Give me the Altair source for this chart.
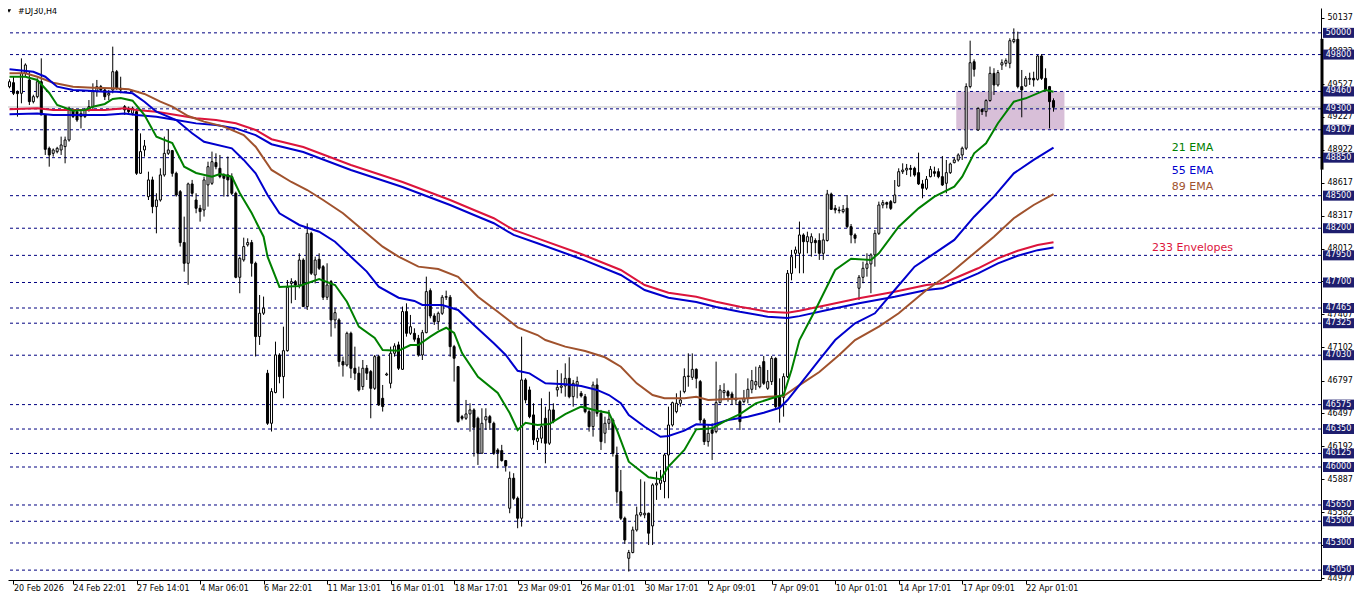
import altair as alt
import pandas as pd

# ---------------- data ----------------
opens = [49504,49541,49458,49443,49627,49566,49366,49412,49550,49243,48936,48890,48905,48921,48952,49013,49290,49274,49228,49228,
         49290,49320,49458,49504,49474,49427,49474,49642,49489,49320,49305,49259,49274,48706,48921,48491,48645,48399,48460,48691,
         48890,48915,48706,48537,48068,47877,48608,48460,48384,48368,48599,48614,48805,48752,48691,48691,48675,48522,47748,47908,
         48047,48068,47877,47202,47417,46864,46403,46686,47032,46833,47072,47692,47708,47677,47907,47478,48153,47769,47914,47846,
         47564,47708,47355,47355,46971,46940,47232,46910,46864,46741,46910,46879,46725,47017,46633,46848,46771,47048,47125,46900,
         47432,47232,47232,47186,47032,47238,47625,47392,47339,47416,47564,47564,47109,46925,46464,46449,46489,46526,46449,46127,
         46434,46464,46403,46157,46151,46059,45620,45897,45712,45528,46802,46710,46480,46234,46265,46449,46219,46526,46710,46734,
         46747,46817,46648,46756,46679,46648,46510,46372,46756,46495,46311,46403,46433,46111,45773,45528,45159,45212,45420,45559,
         45559,45574,45457,45835,45850,45866,46111,46387,46510,46587,46694,46833,46826,46900,46787,46433,46234,46341,46326,46593,
         46685,46694,46673,46618,46602,46602,46633,46716,46756,46740,46971,46725,46787,47001,46648,46642,46833,47784,47969,47969,
         48138,48076,48067,48087,48087,47969,48087,48515,48384,48368,48353,48384,48215,48138,47647,47748,47831,47871,47954,48153,
         48414,48436,48445,48436,48589,48721,48736,48752,48752,48712,48608,48568,48675,48721,48721,48675,48614,48712,48804,48829,
         48875,48937,49505,49734,49105,49295,49274,49376,49627,49520,49704,49719,49719,49919,49940,49505,49510,49572,49581,49572,
         49787,49581,49505,49376]
highs = [49572,49596,49470,49765,49719,49642,49430,49581,49765,49250,48952,48935,48950,49044,49044,49320,49305,49290,49290,49305,
         49381,49535,49566,49520,49489,49474,49873,49658,49596,49335,49320,49320,49290,49074,49013,48721,48675,48522,48752,49044,
         49111,48921,48721,48552,48307,48620,48645,48522,48415,48675,48813,48906,48890,48875,48706,48860,48706,48537,47938,48113,
         48107,48092,47892,47585,47570,46895,46726,47155,47048,47293,47723,47739,47723,47969,47923,48245,48168,47938,47969,47861,
         47877,47723,47462,47370,47017,47247,47247,47109,46925,46986,46940,46894,47032,47032,46756,46870,47109,47140,47155,47478,
         47508,47401,47278,47217,47263,47754,47646,47416,47432,47585,47625,47585,47125,46931,46480,46618,46587,46541,46464,46541,
         46541,46480,46418,46173,46204,46065,45958,45943,45728,47201,46818,46741,46587,46341,46633,46556,46694,46587,46894,46863,
         46955,47011,46802,46833,46700,46673,46526,46787,46817,46526,46464,46526,46449,46188,45973,45543,45236,45451,45635,45887,
         45866,45580,45850,45958,45973,46126,46556,46602,46679,46704,46909,47047,47047,46909,46802,46449,46387,46403,46971,46756,
         46771,46710,46694,46863,46618,46710,46817,46894,46925,46940,47023,46894,47023,47011,46817,46863,47815,48000,48031,48261,
         48153,48168,48153,48107,48153,48153,48553,48528,48414,48399,48414,48506,48239,48153,47769,47892,47969,47969,48184,48445,
         48460,48445,48460,48644,48752,48798,48792,48783,48767,48896,48645,48681,48773,48767,48752,48865,48829,48804,48853,48890,
         48952,49535,49928,49756,49314,49304,49388,49689,49674,49658,49756,49765,49950,50041,50011,49658,49602,49633,49642,49796,
         49805,49673,49511,49397]
lows = [49489,49427,49228,49351,49596,49335,49350,49397,49243,48875,48767,48860,48890,48875,48798,48998,49215,49180,49120,49215,
        49274,49290,49412,49460,49381,49381,49443,49474,49443,49244,49260,49240,48691,48700,48860,48460,48338,48153,48445,48675,
        48875,48675,48491,48031,47800,47678,48491,48338,48261,48307,48399,48599,48743,48660,48491,48491,48506,47739,47601,47892,
        48031,47754,47018,47125,47401,46388,46327,46679,46771,46633,47063,47508,47539,47646,47478,47447,47769,47692,47815,47539,
        47539,47201,47278,46925,46833,46925,46818,46802,46695,46710,46802,46449,46710,46563,46511,46840,46725,47017,46894,46894,
        47201,47217,47155,47017,46986,47232,47370,47309,47263,47401,47539,47017,46787,46409,46430,46434,46326,46096,46019,46127,
        46342,46342,46111,45989,46050,45958,45574,45697,45436,45451,46587,46449,46204,46157,46219,46034,46203,46403,46648,46679,
        46648,46633,46556,46633,46640,46495,46326,46280,46464,46157,46219,46341,46096,45666,45512,45291,45037,45205,45405,45543,
        45528,45282,45282,45697,45789,45712,45712,46372,46495,46556,46679,46740,46802,46725,46403,46203,46188,46065,46311,46587,
        46618,46602,46572,46572,46341,46587,46587,46679,46710,46725,46756,46710,46756,46541,46409,46464,46820,47720,47831,47785,
        47785,47969,47938,47969,47908,47908,48077,48368,48337,48337,48337,48200,48061,48061,47539,47693,47754,47601,47846,48138,
        48383,48383,48368,48429,48583,48700,48690,48675,48675,48598,48476,48552,48669,48675,48660,48589,48522,48700,48798,48814,
        48829,48921,49489,49597,49099,49243,49228,49366,49428,49505,49658,49689,49674,49904,49489,49222,49505,49520,49505,49560,
        49566,49458,49120,49274]
closes = [49550,49443,49440,49627,49704,49366,49412,49550,49243,48927,48875,48921,48936,48967,49013,49305,49228,49197,49259,49290,
          49320,49458,49504,49474,49412,49443,49642,49489,49474,49290,49274,49305,48706,48906,48958,48645,48399,48460,48691,48890,
          48921,48706,48506,48068,47877,48608,48522,48384,48353,48645,48767,48813,48767,48675,48660,48645,48522,47748,47923,48031,
          48068,47877,47202,47417,47463,46403,46695,47032,46833,47072,47656,47708,47677,47907,47478,48153,47785,47907,47831,47564,
          47677,47355,47422,46971,46940,47232,46910,46864,46710,46910,46864,46725,47017,46572,46557,46857,47048,47115,46910,47432,
          47232,47293,47177,47032,47238,47616,47392,47339,47416,47564,47570,47109,47002,46418,46449,46489,46526,46366,46127,46403,
          46464,46409,46127,46133,46059,46010,45897,45712,45528,46802,46618,46464,46250,46265,46372,46219,46526,46418,46734,46747,
          46817,46648,46771,46787,46655,46510,46372,46756,46495,46234,46403,46440,46126,45773,45528,45328,45212,45420,45559,45580,
          45574,45390,45835,45850,45881,46111,46387,46593,46587,46618,46833,46839,46900,46817,46433,46234,46311,46311,46593,46710,
          46704,46655,46633,46633,46418,46633,46716,46796,46787,46919,46771,46787,47001,46556,46556,46833,47784,47938,48000,48138,
          48076,48122,48122,48067,47969,48092,48515,48374,48368,48362,48374,48215,48138,48107,47748,47831,47871,47954,48153,48414,
          48436,48421,48383,48506,48721,48736,48752,48742,48690,48608,48568,48651,48743,48706,48675,48598,48712,48792,48829,48875,
          48937,49505,49725,49664,49304,49274,49376,49627,49520,49634,49725,49744,49928,49940,49505,49474,49581,49581,49566,49787,
          49581,49474,49366,49314]

x_label_idx = [1, 16, 32, 48, 64, 80, 96, 112, 128, 144, 160, 176, 192, 208, 224, 240, 256]
x_labels = ["20 Feb 2026", "24 Feb 22:01", "27 Feb 14:01", "4 Mar 06:01", "6 Mar 22:01", "11 Mar 13:01",
            "16 Mar 01:01", "18 Mar 17:01", "23 Mar 09:01", "26 Mar 01:01", "30 Mar 17:01", "2 Apr 09:01",
            "7 Apr 09:01", "10 Apr 01:01", "14 Apr 17:01", "17 Apr 09:01", "22 Apr 01:01"]

scale_ticks = [50137, 49832, 49527, 49227, 48922, 48617, 48317, 48012, 47712, 47407, 47102, 46797,
               46497, 46192, 45887, 45582, 45277, 44977]
level_values = [50000, 49800, 49460, 49300, 49107, 48850, 48500, 48200, 47950, 47700, 47465, 47325,
                47030, 46575, 46350, 46125, 46000, 45650, 45500, 45300, 45050]

ema21_idx = [0,4,7,10,12,16,19,21,24,26,28,31,34,37,41,44,47,51,53,56,58,61,64,65,68,73,78,82,85,88,92,94,98,101,103,106,108,110,
             112,114,118,123,126,128,130,133,136,140,144,148,151,153,156,161,164,166,170,173,177,180,184,188,192,195,197,199,203,
             208,212,217,219,224,229,233,238,240,243,246,249,253,256,261,263]
ema21_val = [49596,49596,49566,49446,49335,49283,49289,49320,49345,49391,49400,49375,49243,49043,48985,48767,48709,48675,48700,
             48675,48525,48340,48122,47938,47659,47668,47732,47677,47523,47293,47189,47078,47072,47124,47124,47201,47247,47283,
             47235,47050,46832,46682,46497,46341,46408,46387,46396,46488,46556,46519,46498,46341,46049,45905,45887,46003,46157,
             46347,46357,46418,46488,46587,46633,46664,46894,47170,47447,47815,47919,47907,47969,48214,48383,48491,48583,48675,
             48890,48983,49167,49366,49397,49474,49458]
ema55_idx = [0,6,9,12,16,20,24,27,31,34,37,42,46,49,56,59,62,65,68,73,78,82,86,90,93,98,102,104,109,113,117,122,125,128,131,
             135,140,144,148,151,154,156,160,164,166,170,173,177,181,186,190,194,196,199,204,208,213,218,223,228,233,238,243,248,
             253,258,263]
ema55_val = [49664,49642,49596,49504,49474,49467,49458,49458,49443,49366,49274,49197,49075,48997,48936,48829,48706,48506,48338,
             48230,48168,48076,47938,47800,47661,47560,47530,47493,47493,47447,47308,47140,47032,46887,46863,46771,46762,46746,
             46710,46663,46587,46479,46371,46279,46286,46335,46394,46387,46433,46464,46500,46546,46617,46755,46986,47170,47324,
             47416,47631,47846,47969,48092,48306,48491,48706,48829,48942]
ema89_idx = [0,4,7,11,16,21,26,30,34,38,41,45,49,54,59,62,66,71,75,79,84,89,94,98,103,108,113,118,123,128,133,135,140,145,150,
             154,158,162,165,170,173,176,181,186,191,195,199,204,209,213,219,224,231,237,243,248,253,258,263]
ema89_val = [49627,49627,49596,49541,49504,49495,49489,49480,49437,49366,49320,49234,49182,49136,49059,48951,48737,48626,48552,
             48460,48338,48184,48030,47938,47846,47824,47753,47569,47431,47287,47216,47170,47109,47069,47011,46924,46771,46663,
             46633,46633,46648,46617,46627,46633,46648,46654,46755,46875,47032,47170,47293,47416,47631,47785,47969,48122,48292,
             48414,48515]
env_idx = [0,7,11,24,29,32,37,42,47,52,57,62,66,74,86,99,111,117,122,127,133,144,154,160,166,173,178,184,191,196,199,206,214,
           223,231,235,239,244,249,254,259,263]
env_upper = [49296,49305,49289,49289,49305,49289,49274,49243,49213,49197,49167,49105,49020,48948,48783,48626,48460,48368,48292,
             48184,48107,47963,47815,47677,47606,47569,47523,47477,47431,47422,47440,47493,47554,47615,47677,47693,47753,47831,
             47923,47993,48045,48070]
env_lower = [49250,49258,49243,49243,49258,49243,49228,49197,49166,49150,49120,49058,48974,48902,48737,48580,48414,48322,48246,
             48138,48061,47917,47769,47631,47560,47520,47475,47430,47385,47372,47390,47446,47508,47568,47630,47646,47706,47784,
             47876,47946,47998,48022]

note_text = ["21 EMA", "55 EMA", "89 EMA", "233 Envelopes"]
note_idx = [298, 298, 298, 298]
note_price = [48939, 48727, 48580, 48018]
note_color = ["#008000", "#0000CD", "#A0522D", "#DC143C"]

zone_start, zone_end = [238.5], [265.75]
zone_top, zone_bottom = [49460], [49107]
bid_price = [49317]

# ---------------- chart ----------------
W, H = 1313, 572
FONT = "DejaVu Sans"
xs = alt.Scale(domain=[0.875, 329.125], nice=False, zero=False)
ys = alt.Scale(domain=[44959, 50229], nice=False, zero=False)

lbl_expr = "[" + ",".join("'" + s + "'" for s in x_labels) + "][round(datum.value/16)]"
xaxis = alt.Axis(values=x_label_idx, labelExpr=lbl_expr, orient="bottom", tickSize=4, labelAlign="left",
                 labelPadding=0, labelOffset=0, title=None, grid=False, labelOverlap=False, labelFlush=False,
                 labelBound=False, labelFont=FONT, labelFontSize=8, labelColor="black", tickColor="black",
                 domainColor="black")
yaxis = alt.Axis(values=scale_ticks, orient="right", format="d", tickSize=3, labelPadding=3, title=None, grid=False,
                 labelOverlap=False, labelFlush=False, labelBound=False, labelFont=FONT, labelFontSize=8,
                 labelColor="black", tickColor="black", domainColor="black")


def X(f):
    return alt.X(f, type="quantitative", scale=xs, axis=xaxis)


def Y(f):
    return alt.Y(f, type="quantitative", scale=ys, axis=yaxis)


candles = pd.DataFrame({"i": list(range(len(opens))), "o": opens, "h": highs, "l": lows, "c": closes})
candles["dir"] = ["up" if c >= o else "down" for o, c in zip(opens, closes)]

zone = pd.DataFrame({"a": zone_start, "b": zone_end, "t": zone_top, "u": zone_bottom})
zone_layer = alt.Chart(zone).mark_rect(color="#D8BFD8").encode(
    x=X("a"), x2="b", y=Y("t"), y2="u")

levels = pd.DataFrame({"level": level_values})
level_lines = alt.Chart(levels).mark_rule(color="#000080", strokeWidth=1, strokeDash=[3, 3]).encode(y=Y("level"))

bid = pd.DataFrame({"p": bid_price})
bid_line = alt.Chart(bid).mark_rule(color="#C0C0C0", strokeWidth=1).encode(y=Y("p"))

wicks = alt.Chart(candles).mark_rule(color="black", strokeWidth=1).encode(x=X("i"), y=Y("l"), y2="h")
bodies = alt.Chart(candles).mark_bar(width=2, stroke="black", strokeWidth=1).encode(
    x=X("i"), y=Y("o"), y2="c",
    fill=alt.Fill("dir:N", scale=alt.Scale(domain=["up", "down"], range=["white", "black"]), legend=None))


def line_layer(idx, vals, color):
    df = pd.DataFrame({"i": idx, "v": vals})
    return alt.Chart(df).mark_line(color=color, strokeWidth=2, interpolate="linear").encode(x=X("i"), y=Y("v"))


env_up_l = line_layer(env_idx, env_upper, "#DC143C")
env_lo_l = line_layer(env_idx, env_lower, "#0000CD")
ema89_l = line_layer(ema89_idx, ema89_val, "#A0522D")
ema55_l = line_layer(ema55_idx, ema55_val, "#0000CD")
ema21_l = line_layer(ema21_idx, ema21_val, "#008000")

notes = pd.DataFrame({"t": note_text, "i": note_idx, "p": note_price, "col": note_color})
notes_layer = alt.Chart(notes).mark_text(font=FONT, fontSize=11, align="center", baseline="middle").encode(
    x=X("i"), y=Y("p"), text="t:N", color=alt.Color("col:N", scale=None))

# price label boxes on the right scale
bid_tag = alt.Chart(pd.DataFrame({"p": [49335]})).mark_rule(color="black", strokeWidth=2).encode(
    y=Y("p"), x=alt.value(W), x2=alt.value(W + 33))
axis_mark = alt.Chart(pd.DataFrame({"p1": [49945], "p2": [48740]})).mark_rule(color="black", strokeWidth=3).encode(
    y=Y("p1"), y2="p2", x=alt.value(W + 1))
boxes = alt.Chart(levels).mark_tick(orient="horizontal", thickness=10, size=31, color="#1E1E6E", opacity=1).encode(
    y=Y("level"), x=alt.value(W + 17.5))
box_text = alt.Chart(levels).mark_text(font=FONT, fontSize=8, color="white", align="center", baseline="middle").encode(
    y=Y("level"), x=alt.value(W + 17.5), text=alt.Text("level:Q", format="d"))

title_df = pd.DataFrame({"t": ["#DJ30,H4"]})
title_txt = alt.Chart(title_df).mark_text(font=FONT, fontSize=8, align="left", baseline="middle", color="black").encode(
    text="t:N", x=alt.value(10), y=alt.value(4))
title_tri = alt.Chart(title_df).mark_point(shape="triangle-down", filled=True, size=18, color="black", opacity=1).encode(
    x=alt.value(1), y=alt.value(3))

chart = alt.layer(
    zone_layer, bid_line, level_lines, wicks, bodies,
    env_up_l, env_lo_l, ema89_l, ema55_l, ema21_l, notes_layer,
    bid_tag, axis_mark, boxes, box_text, title_txt, title_tri
).properties(
    width=W, height=H,
    autosize=alt.AutoSizeParams(type="none"),
    padding={"left": 0, "top": 0, "right": 33, "bottom": 13},
    background="white"
).configure_view(strokeWidth=0)

chart.save("out.html", embed_options={"renderer": "svg", "actions": False})
